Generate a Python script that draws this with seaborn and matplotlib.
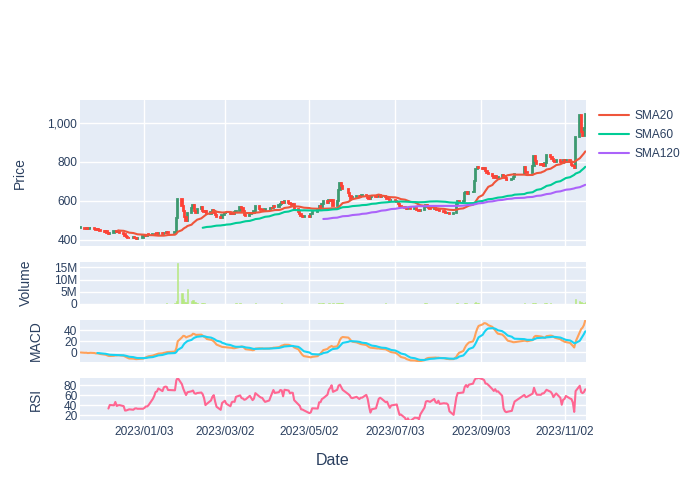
import pandas as pd
import matplotlib
matplotlib.use("Agg")
import matplotlib.pyplot as plt
from matplotlib.ticker import FuncFormatter
import seaborn as sns

# trading calendar (KRX) 2022-11-18 .. 2023-11-17
holidays = ["2022-12-30", "2023-01-23", "2023-01-24", "2023-03-01", "2023-05-01",
            "2023-05-05", "2023-05-29", "2023-06-06", "2023-08-15", "2023-09-28",
            "2023-09-29", "2023-10-02", "2023-10-03", "2023-10-09"]

# daily closes, one list per month
close_nov22 = [462, 455, 462, 454, 460, 463, 455, 450, 458]
close_dec22 = [452, 446, 440, 446, 436, 432, 438, 444, 448, 440, 445, 438, 428, 420, 415,
               412, 409, 414, 410, 407, 412]
close_jan23 = [418, 424, 422, 427, 425, 431, 429, 433, 431, 435, 433, 437, 435, 439, 437,
               442, 512, 608, 575, 548]
close_feb23 = [520, 495, 540, 565, 578, 548, 540, 560, 568, 548, 542, 550, 535, 545, 552,
               540, 528, 518, 512, 530]
close_mar23 = [536, 540, 534, 538, 535, 542, 550, 568, 562, 548, 530, 522, 535, 540, 536,
               548, 575, 560, 552, 556, 550, 558]
close_apr23 = [560, 566, 562, 572, 568, 578, 586, 595, 590, 598, 588, 582, 578, 585, 560,
               545, 532, 524, 518, 525]
close_may23 = [520, 532, 545, 552, 575, 570, 585, 598, 592, 606, 600, 605, 572, 602, 655,
               692, 678, 662, 640, 624]
close_jun23 = [612, 620, 628, 618, 626, 632, 624, 615, 610, 618, 626, 618, 624, 630, 622,
               626, 620, 612, 608, 604, 606]
close_jul23 = [600, 596, 585, 575, 570, 566, 560, 565, 562, 558, 562, 556, 552, 548, 556,
               570, 580, 572, 566, 560, 564]
close_aug23 = [558, 552, 556, 548, 545, 540, 536, 540, 535, 538, 585, 600, 594, 602, 640,
               645, 638, 644, 648, 705, 765, 772]
close_sep23 = [770, 762, 768, 752, 745, 740, 728, 720, 728, 716, 724, 735, 728, 720, 710,
               706, 715, 725, 738]
close_oct23 = [772, 748, 742, 778, 830, 805, 790, 782, 788, 778, 795, 838, 825, 815, 805,
               800, 812, 800, 795]
close_nov23 = [808, 798, 812, 800, 786, 778, 770, 930, 1040, 955, 935, 975, 1045]

# daily volume in millions
vol_nov22 = [0.2, 0.15, 0.1, 0.2, 0.1, 0.15, 0.1, 0.2, 0.1]
vol_dec22 = [0.2, 0.1, 0.15, 0.2, 0.1, 0.1, 0.15, 0.2, 0.1, 0.1, 0.15, 0.1, 0.2, 0.15, 0.1,
             0.1, 0.15, 0.1, 0.1, 0.1, 0.15]
vol_jan23 = [0.1, 0.15, 0.1, 0.1, 0.15, 0.2, 0.1, 0.15, 0.1, 0.2, 0.15, 0.2, 0.15, 0.3, 0.2,
             0.4, 1.3, 16.8, 4.6, 2.1]
vol_feb23 = [1.0, 1.0, 6.0, 1.3, 1.7, 0.7, 0.7, 0.6, 0.4, 0.3, 0.3, 0.2, 0.2, 0.2, 0.15,
             0.2, 0.15, 0.1, 0.2, 0.15]
vol_mar23 = [0.15, 0.1, 0.1, 0.15, 0.1, 0.2, 0.25, 0.3, 0.2, 0.2, 0.15, 0.15, 0.1, 0.15, 0.1,
             0.2, 0.45, 0.2, 0.15, 0.1, 0.1, 0.15]
vol_apr23 = [0.15, 0.1, 0.1, 0.15, 0.1, 0.15, 0.2, 0.25, 0.15, 0.2, 0.15, 0.1, 0.1, 0.15, 0.2,
             0.2, 0.15, 0.15, 0.1, 0.1]
vol_may23 = [0.1, 0.15, 0.2, 0.15, 0.3, 0.2, 0.25, 0.3, 0.2, 0.25, 0.2, 0.2, 0.6, 0.3, 0.55,
             0.6, 0.45, 0.3, 0.2, 0.2]
vol_jun23 = [0.15, 0.15, 0.2, 0.15, 0.15, 0.2, 0.15, 0.1, 0.1, 0.15, 0.15, 0.1, 0.1, 0.15, 0.1,
             0.1, 0.35, 0.15, 0.1, 0.1, 0.1]
vol_jul23 = [0.15, 0.1, 0.15, 0.1, 0.1, 0.1, 0.15, 0.1, 0.1, 0.1, 0.1, 0.1, 0.15, 0.1, 0.15,
             0.4, 0.3, 0.15, 0.1, 0.1, 0.1]
vol_aug23 = [0.1, 0.1, 0.1, 0.1, 0.1, 0.1, 0.1, 0.1, 0.1, 0.15, 0.55, 0.3, 0.2, 0.2, 0.45,
             0.3, 0.2, 0.2, 0.2, 0.4, 0.65, 0.45]
vol_sep23 = [0.3, 0.2, 0.2, 0.15, 0.15, 0.15, 0.1, 0.1, 0.1, 0.1, 0.1, 0.15, 0.1, 0.1, 0.1,
             0.1, 0.1, 0.15, 0.2]
vol_oct23 = [0.3, 0.2, 0.15, 0.3, 0.45, 0.3, 0.2, 0.15, 0.2, 0.15, 0.25, 0.35, 0.3, 0.2, 0.15,
             0.15, 0.2, 0.15, 0.1]
vol_nov23 = [0.2, 0.15, 0.2, 0.15, 0.15, 0.1, 0.15, 2.0, 1.1, 0.8, 0.5, 0.6, 1.0]

tick_dates = ["2023-01-03", "2023-03-02", "2023-05-02", "2023-07-03", "2023-09-03", "2023-11-02"]

closes = (close_nov22 + close_dec22 + close_jan23 + close_feb23 + close_mar23 + close_apr23 +
          close_may23 + close_jun23 + close_jul23 + close_aug23 + close_sep23 + close_oct23 +
          close_nov23)
volumes = (vol_nov22 + vol_dec22 + vol_jan23 + vol_feb23 + vol_mar23 + vol_apr23 + vol_may23 +
           vol_jun23 + vol_jul23 + vol_aug23 + vol_sep23 + vol_oct23 + vol_nov23)

dates = pd.bdate_range("2022-11-18", "2023-11-17")
dates = dates[~dates.isin(pd.to_datetime(holidays))]

df = pd.DataFrame({"Date": dates, "Close": closes, "Volume": [v * 1e6 for v in volumes]})
df["Open"] = df["Close"].shift(1).fillna(df["Close"])

# indicators
for n in (20, 60, 120):
    df[f"SMA{n}"] = df["Close"].rolling(n).mean()
ema12 = df["Close"].ewm(span=12, adjust=False).mean()
ema26 = df["Close"].ewm(span=26, adjust=False).mean()
df["MACD"] = ema12 - ema26
df["Signal"] = df["MACD"].ewm(span=9, adjust=False, min_periods=9).mean()
delta = df["Close"].diff()
gain = delta.clip(lower=0).rolling(14).mean()
loss = (-delta.clip(upper=0)).rolling(14).mean()
df["RSI"] = 100 - 100 / (1 + gain / loss)

# style
sns.set_theme(style="darkgrid", rc={
    "axes.facecolor": "#E5ECF6", "grid.color": "white", "grid.linewidth": 1.0,
    "axes.edgecolor": "none", "xtick.color": "#2a3f5f", "ytick.color": "#2a3f5f",
    "axes.labelcolor": "#2a3f5f", "text.color": "#2a3f5f"})
plt.rcParams["font.family"] = ["Liberation Sans", "DejaVu Sans"]

fig = plt.figure(figsize=(7, 5), dpi=100)
fig.patch.set_facecolor("white")


def rect(top, bottom):
    return [80 / 700, 1 - bottom / 500, 506 / 700, (bottom - top) / 500]


ax_p = fig.add_axes(rect(100, 246))
ax_v = fig.add_axes(rect(262, 304), sharex=ax_p)
ax_m = fig.add_axes(rect(320, 362), sharex=ax_p)
ax_r = fig.add_axes(rect(378, 420), sharex=ax_p)

# candles
up = df["Close"] >= df["Open"]
body = (df["Close"] - df["Open"]).abs().clip(lower=3)
low = df[["Open", "Close"]].min(axis=1)
for mask, col in ((up, "#3D9970"), (~up, "#FF4136")):
    ax_p.bar(df["Date"][mask], body[mask], bottom=low[mask], width=0.9,
             color=col, edgecolor=col, linewidth=1.3, zorder=2)

sma_colors = {"SMA20": "#EF553B", "SMA60": "#00CC96", "SMA120": "#AB63FA"}
for name, col in sma_colors.items():
    sns.lineplot(data=df, x="Date", y=name, ax=ax_p, color=col, linewidth=1.5, label=name)
handles, labels = ax_p.get_legend_handles_labels()
ax_p.get_legend().remove()

# volume
ax_v.bar(df["Date"], df["Volume"], width=1.0, color="#B6E880", edgecolor="#B6E880",
         linewidth=0.4, zorder=2)

# MACD
sns.lineplot(data=df, x="Date", y="MACD", ax=ax_m, color="#FFA15A", linewidth=1.5)
sns.lineplot(data=df, x="Date", y="Signal", ax=ax_m, color="#19D3F3", linewidth=1.5)

# RSI
sns.lineplot(data=df, x="Date", y="RSI", ax=ax_r, color="#FF6692", linewidth=1.5)

ticks = pd.to_datetime(tick_dates)
for ax in (ax_p, ax_v, ax_m, ax_r):
    ax.grid(True, color="white", linewidth=1.0)
    ax.set_axisbelow(True)
    ax.tick_params(length=0, labelsize=8.6, pad=2)
    ax.set_xticks(ticks)
    ax.set_xlabel("")
    for s in ax.spines.values():
        s.set_visible(False)
ax_r.set_xticklabels([d.strftime("%Y/%m/%d") for d in ticks])
for ax in (ax_p, ax_v, ax_m):
    ax.tick_params(labelbottom=False)
ax_r.tick_params(axis="x", pad=4)

ax_p.set_xlim(pd.Timestamp("2022-11-17 12:00"), pd.Timestamp("2023-11-17 12:00"))

ax_p.set_ylim(369, 1118)
ax_p.set_yticks([400, 600, 800, 1000])
ax_p.yaxis.set_major_formatter(FuncFormatter(lambda v, p: f"{v:,.0f}"))
ax_v.set_ylim(0, 17.15e6)
ax_v.set_yticks([0, 5e6, 10e6, 15e6])
ax_v.yaxis.set_major_formatter(FuncFormatter(lambda v, p: "0" if v == 0 else f"{v / 1e6:.0f}M"))
ax_m.set_ylim(-17, 58)
ax_m.set_yticks([0, 20, 40])
ax_r.set_ylim(10.6, 94)
ax_r.set_yticks([20, 40, 60, 80])

for ax, name in ((ax_p, "Price"), (ax_v, "Volume"), (ax_m, "MACD"), (ax_r, "RSI")):
    ax.set_ylabel(name, fontsize=10, labelpad=15)
ax_r.set_xlabel("Date", fontsize=11.5, labelpad=11)

fig.legend(handles, labels, loc="upper left", bbox_to_anchor=(599 / 700, 1 - 110 / 500),
           frameon=False, fontsize=8.6, handlelength=2.5, handletextpad=0.5,
           labelspacing=0.6, borderaxespad=0, borderpad=0)

fig.savefig("out.png", dpi=100)
